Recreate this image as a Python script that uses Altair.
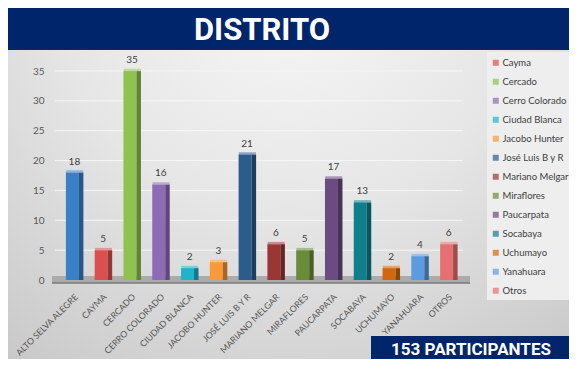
import altair as alt
import pandas as pd

# ---- data ----
axis_labels = ["ALTO SELVA ALEGRE", "CAYMA", "CERCADO", "CERRO COLORADO", "CIUDAD BLANCA",
               "JACOBO HUNTER", "JOSÉ LUIS B Y R", "MARIANO MELGAR", "MIRAFLORES",
               "PAUCARPATA", "SOCABAYA", "UCHUMAYO", "YANAHUARA", "OTROS"]
legend_names = ["Alto Selva Alegre", "Cayma", "Cercado", "Cerro Colorado", "Ciudad Blanca",
                "Jacobo Hunter", "José Luis B y R", "Mariano Melgar", "Miraflores",
                "Paucarpata", "Socabaya", "Uchumayo", "Yanahuara", "Otros"]
values = [18, 5, 35, 16, 2, 3, 21, 6, 5, 17, 13, 2, 4, 6]
y_ticks = [0, 5, 10, 15, 20, 25, 30, 35]
grid_vals = [5, 10, 15, 20, 25, 30, 35]
title_text = "DISTRITO"
footer_text = "153 PARTICIPANTES"

# ---- styles ----
palette = ["#3b7fc6", "#d9504f", "#8fc24f", "#8e6bb5", "#1fb3cc", "#f79a3a", "#2c5c8c",
           "#9b3636", "#6a8c3a", "#6b4b82", "#117e8b", "#d0680f", "#5b9be0", "#e86f71"]
NAVY = "#00256b"
FONT = "Lato"
TITLE_FONT = "Roboto"


def shade(hexc, f):
    r, g, b = (int(hexc[i:i + 2], 16) for i in (1, 3, 5))
    return "#%02x%02x%02x" % (int(r * f), int(g * f), int(b * f))


def tint(hexc, f):
    r, g, b = (int(hexc[i:i + 2], 16) for i in (1, 3, 5))
    return "#%02x%02x%02x" % (int(r + (255 - r) * f), int(g + (255 - g) * f), int(b + (255 - b) * f))


df = pd.DataFrame({
    "cat": axis_labels,
    "name": legend_names,
    "value": values,
    "side": [shade(c, 0.68) for c in palette],
    "top": [tint(c, 0.25) for c in palette],
})
grid_df = pd.DataFrame({"value": grid_vals})
one = pd.DataFrame({"k": [0]})

W, H = 403, 209
L, T, R, B = 52, 63, 106, 79
TW = W + R
BH = H + B

yscale = alt.Scale(domain=[0, 35], nice=False)
xscale = alt.Scale(domain=axis_labels, paddingInner=0.4, paddingOuter=0.2)

x_axis = alt.Axis(title=None, labelAngle=315, labelAlign="right", labelBaseline="middle",
                  labelPadding=15, labelOffset=2, ticks=False, domain=False, grid=False,
                  labelFont=FONT, labelFontSize=8.8, labelColor="#595959", zindex=1)
y_axis = alt.Axis(title=None, values=y_ticks, grid=False, ticks=False, domain=False,
                  labelPadding=16, labelFont=FONT, labelFontSize=10,
                  labelColor="#595959", zindex=1)


def X():
    return alt.X("cat:N", sort=axis_labels, scale=xscale, axis=x_axis)


def Y():
    return alt.Y("value:Q", scale=yscale, axis=y_axis)


bg = alt.Chart(one).mark_rect(
    fill=alt.RadialGradient(gradient="radial",
                            stops=[alt.GradientStop(offset=0, color="#f7f7f7"),
                                   alt.GradientStop(offset=0.45, color="#e6e6e6"),
                                   alt.GradientStop(offset=1, color="#c4c4c4")],
                            x1=0.5, y1=0.15, x2=0.5, y2=0.15, r1=0, r2=0.9)
).encode(x=alt.value(-L), x2=alt.value(TW), y=alt.value(-T), y2=alt.value(BH))

banner = alt.Chart(one).mark_rect(color=NAVY).encode(
    x=alt.value(-L), x2=alt.value(TW), y=alt.value(-T), y2=alt.value(-21))
title = alt.Chart(one).mark_text(text=title_text, font=TITLE_FONT, fontSize=31, fontWeight="bold",
                                 color="white", align="center", baseline="alphabetic").encode(
    x=alt.value(202), y=alt.value(-31))

legend_box = alt.Chart(one).mark_rect(color="#eeeeee").encode(
    x=alt.value(427), x2=alt.value(TW), y=alt.value(-19), y2=alt.value(229))

floor = alt.Chart(one).mark_rect(color="#ababab").encode(
    x=alt.value(-8), x2=alt.value(410), y=alt.value(205), y2=alt.value(212))
floor_line = alt.Chart(one).mark_rule(color="#7a7a7a", strokeWidth=1.5).encode(
    x=alt.value(-8), x2=alt.value(410), y=alt.value(212))

grid = alt.Chart(grid_df).mark_rule(color="#f6f6f6", strokeWidth=1).encode(
    y=Y(), x=alt.value(-5), x2=alt.value(W))

front = alt.Chart(df).mark_bar(size=13, xOffset=-2).encode(
    x=X(), y=Y(),
    color=alt.Color("name:N", scale=alt.Scale(domain=legend_names, range=palette),
                    legend=alt.Legend(values=legend_names[1:], orient="none", legendX=431, legendY=-13,
                                      title=None, symbolType="square", symbolSize=36,
                                      symbolStrokeWidth=0, labelFont=FONT, labelFontSize=9.5,
                                      labelColor="#404040", rowPadding=8, labelOffset=2,
                                      padding=0, zindex=1)))
side = alt.Chart(df).mark_bar(size=4.5, xOffset=6.75).encode(
    x=X(), y=Y(), color=alt.Color("side:N", scale=None))
top = alt.Chart(df).mark_tick(size=17, thickness=2.5, xOffset=0.25, yOffset=-1).encode(
    x=X(), y=Y(), color=alt.Color("top:N", scale=None))
labels = alt.Chart(df).mark_text(dy=-11, font=FONT, fontSize=10, color="#404040",
                                 baseline="middle").encode(
    x=X(), y=Y(), text="value:Q")

footer_box = alt.Chart(one).mark_rect(color=NAVY).encode(
    x=alt.value(311), x2=alt.value(TW), y=alt.value(265), y2=alt.value(BH))
footer = alt.Chart(one).mark_text(text=footer_text, font=TITLE_FONT, fontSize=17, fontWeight="bold",
                                  color="white", align="center", baseline="alphabetic").encode(
    x=alt.value(411), y=alt.value(284))

chart = alt.layer(bg, banner, title, legend_box, floor, floor_line, grid, front, side, top, labels,
                  footer_box, footer).properties(
    width=W, height=H,
    autosize=alt.AutoSizeParams(type="none"),
    padding={"left": L, "top": T, "right": R, "bottom": B},
).configure_view(stroke=None)

chart.save("out.html", embed_options={"renderer": "svg", "actions": False})
